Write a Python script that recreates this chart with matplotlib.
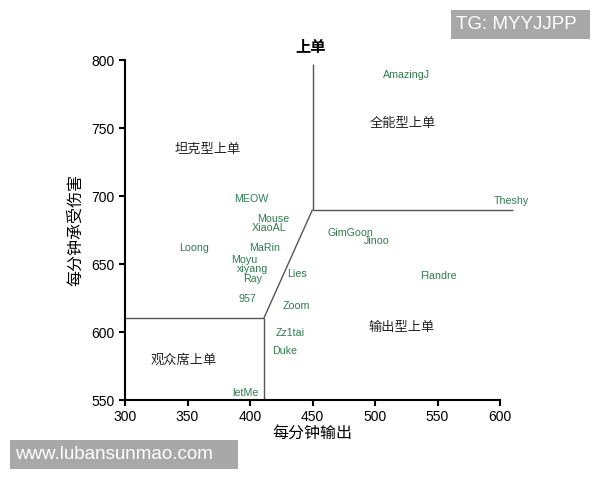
import matplotlib
matplotlib.use("Agg")
import matplotlib.pyplot as plt
from matplotlib.patches import Rectangle

plt.rcParams['font.family'] = ['Liberation Sans', 'Noto Sans CJK SC', 'DejaVu Sans']

# Player labels (name, dpm, damage taken per min)
players = ["AmazingJ", "Theshy", "MEOW", "Mouse", "XiaoAL", "Loong", "MaRin", "Moyu",
           "xiyang", "Ray", "957", "Lies", "Zoom", "Zz1tai", "Duke", "letMe",
           "GimGoon", "Jinoo", "Flandre"]
player_x = [525, 609, 401, 419, 415, 355, 412, 395, 402, 402, 398, 438, 437, 432, 428, 396, 480, 501, 551]
player_y = [789, 696.5, 698, 683, 676.5, 662, 662, 653, 646, 639, 624, 643, 619, 599, 586, 555, 672.5, 667, 641]

# Region labels
regions = ["全能型上单", "坦克型上单", "观众席上单", "输出型上单"]
region_x = [522, 366, 347, 521]
region_y = [753, 734, 579, 603]

# Divider polylines
div_vert_x = [450, 450]
div_vert_y = [797, 690]
div_right_x = [450, 610]
div_right_y = [690, 690]
div_diag_x = [411, 450]
div_diag_y = [610, 690]
div_left_x = [300, 411]
div_left_y = [610, 610]
div_low_x = [411, 411]
div_low_y = [610, 550]

xticks = [300, 350, 400, 450, 500, 550, 600]
yticks = [550, 600, 650, 700, 750, 800]

W, H = 600, 480
fig = plt.figure(figsize=(6, 4.8), dpi=100)
ax = fig.add_axes([125/W, 1-400/H, 375/W, 340/H])
ax.set_xlim(300, 600)
ax.set_ylim(550, 800)
ax.set_xticks(xticks)
ax.set_yticks(yticks)
for s in ['top', 'right']:
    ax.spines[s].set_visible(False)
for s in ['left', 'bottom']:
    ax.spines[s].set_linewidth(1.5)
    ax.spines[s].set_color('black')
ax.tick_params(direction='out', length=4, width=1.5, labelsize=10, colors='black')

lc = '#555555'
for xs, ys in [(div_vert_x, div_vert_y), (div_right_x, div_right_y), (div_diag_x, div_diag_y),
               (div_left_x, div_left_y), (div_low_x, div_low_y)]:
    ax.plot(xs, ys, color=lc, lw=1.0, clip_on=False, solid_capstyle='butt')

green = '#2f7d4f'
for n, x, y in zip(players, player_x, player_y):
    ax.text(x, y, n, color=green, fontsize=7.7, ha='center', va='center', clip_on=False)

for n, x, y in zip(regions, region_x, region_y):
    ax.text(x, y, n, color='#222222', fontsize=9.5, ha='center', va='center',
            family=['Noto Sans CJK SC'])

ax.set_xlabel("每分钟输出", fontsize=11.5, family=['Noto Sans CJK SC'], labelpad=0)
ax.set_ylabel("每分钟承受伤害", fontsize=11.5, family=['Noto Sans CJK SC'], labelpad=5)
fig.text(311/W, 1-47/H, "上单", fontsize=11, fontweight='bold', ha='center', va='center',
         family=['Noto Sans CJK SC'])

# watermark boxes
box_c = '#a8a8a8'
fig.patches.append(Rectangle((451/W, 1-39/H), 139/W, 29/H, transform=fig.transFigure,
                             fc=box_c, ec='none'))
fig.text(456/W, 1-24.5/H, "TG: MYYJJPP", fontsize=13.5, color='white', ha='left', va='center')
fig.patches.append(Rectangle((10/W, 1-469/H), 228/W, 29/H, transform=fig.transFigure,
                             fc=box_c, ec='none'))
fig.text(15/W, 1-454.5/H, "www.lubansunmao.com", fontsize=13.5, color='white', ha='left', va='center')

fig.savefig("out.png", dpi=100)
